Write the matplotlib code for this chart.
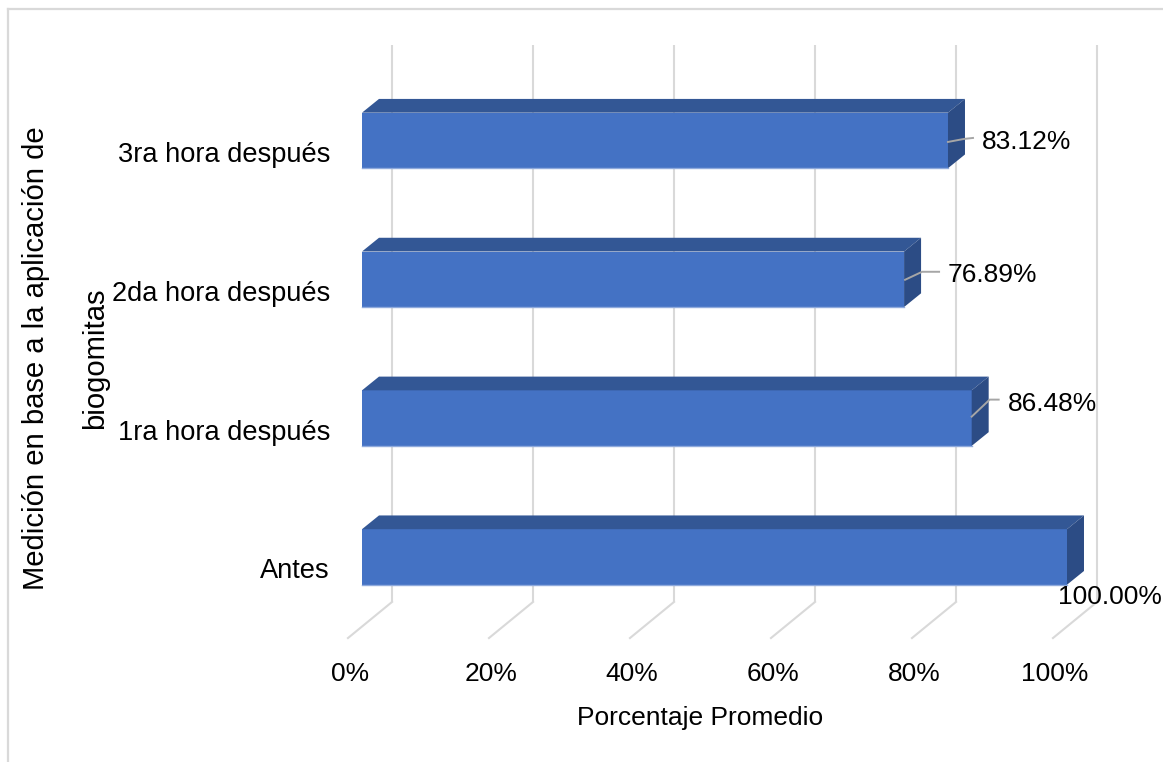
import matplotlib
matplotlib.use("Agg")
import matplotlib.pyplot as plt
from matplotlib.patches import Polygon
from matplotlib.lines import Line2D

# ---- data ----
categories = ["Antes", "1ra hora después", "2da hora después", "3ra hora después"]
values = [100.00, 86.48, 76.89, 83.12]
value_labels = ["100.00%", "86.48%", "76.89%", "83.12%"]
tick_values = [0, 20, 40, 60, 80, 100]
tick_labels = ["0%", "20%", "40%", "60%", "80%", "100%"]
x_title = "Porcentaje Promedio"
y_title_lines = ["Medición en base a la aplicación de", "biogomitas"]

# ---- style ----
plt.rcParams['font.family'] = ['Liberation Sans', 'DejaVu Sans']
FS = 19
FS_CAT = 19.6
FS_YT = 21.1
FRONT = '#4472C4'
TOP = '#335795'
SIDE = '#2C4C85'
GRID = '#D9D9D9'
LEADER = '#A6A6A6'
BAR_H = 0.40
DX, DY = 2.41, 0.099          # bar depth offset (data units)
BACK_DX, BACK_Y0, BACK_Y1 = 4.26, -0.324, 3.688
FRONT_DX, FRONT_Y = -1.99, -0.584

W, H = 1163, 762
fig = plt.figure(figsize=(W / 100, H / 100), dpi=100)
ax = fig.add_axes([362 / W, 66.2 / H, 705 / W, 694.2 / H])
ax.set_xlim(0, 100)
ax.set_ylim(-1, 4)
ax.axis('off')

ypos = list(range(len(categories)))

# back wall gridlines and floor diagonals
for v in tick_values:
    ax.plot([v + BACK_DX, v + BACK_DX], [BACK_Y0, BACK_Y1], color=GRID, lw=1.5,
            zorder=1, clip_on=False, solid_capstyle='butt')
    ax.plot([v + BACK_DX, v + FRONT_DX], [BACK_Y0, FRONT_Y], color=GRID, lw=1.5,
            zorder=1, clip_on=False)

# bars
bars = ax.barh(ypos, values, height=BAR_H, color=FRONT, zorder=3, edgecolor='none')
for b in bars:
    b.set_clip_on(False)
for y, v in zip(ypos, values):
    top = y + BAR_H / 2
    bot = y - BAR_H / 2
    ax.add_patch(Polygon([(0, top), (v, top), (v + DX, top + DY), (DX, top + DY)],
                         closed=True, facecolor=TOP, edgecolor='none', zorder=3,
                         clip_on=False))
    ax.add_patch(Polygon([(v, bot), (v, top), (v + DX, top + DY), (v + DX, bot + DY)],
                         closed=True, facecolor=SIDE, edgecolor='none', zorder=3,
                         clip_on=False))
    ax.plot([0, v], [bot, bot], color='#8FAADC', lw=1, zorder=3.5, clip_on=False)

# category labels
for y, c in zip(ypos, categories):
    ax.text(-4.54, y - 0.155, c, ha='right', va='baseline', fontsize=FS_CAT, color='#000000')

# x tick labels
for v, t in zip(tick_values, tick_labels):
    ax.text(v - 1.7, -0.893, t, ha='center', va='baseline', fontsize=FS, color='#000000')

# value labels with leader lines (pixel offsets relative to the bar end)
label_offsets = [(-9, -38), (36, 16.5), (44, 6.5), (34, 0.5)]
leader_paths = [None,
                [(0, 1.5), (18, 18.5), (27, 18.5)],
                [(1, -0.5), (18, 7.5), (35, 7.5)],
                [(0, -1.5), (16, 1.5), (25, 2.5)]]
fig.canvas.draw()
inv = fig.transFigure.inverted()
for y, v, lab, off, path in zip(ypos, values, value_labels, label_offsets, leader_paths):
    px, py = ax.transData.transform((v, y))
    lx, ly = px + off[0], py + off[1]
    fx, fy = inv.transform((lx, ly - 9))
    fig.text(fx, fy, lab, ha='left', va='baseline', fontsize=FS, color='#000000', zorder=5)
    if path:
        pts = [inv.transform((px + a, py + b)) for a, b in path]
        fig.add_artist(Line2D([p[0] for p in pts], [p[1] for p in pts], color=LEADER, lw=1.4))

# axis titles
fig.text(700 / W, (H - 725) / H, x_title, ha='center', va='baseline', fontsize=FS)
fig.text(36 / W, (H - 358) / H, y_title_lines[0], ha='center', va='center',
         rotation=90, fontsize=FS_YT)
fig.text(95 / W, (H - 358) / H, y_title_lines[1], ha='center', va='center',
         rotation=90, fontsize=FS_YT)

# outer frame (top & left edges)
fig.add_artist(Line2D([8 / W, 1], [1 - 9 / H, 1 - 9 / H], color=GRID, lw=1.6))
fig.add_artist(Line2D([8 / W, 8 / W], [0, 1 - 9 / H], color=GRID, lw=1.6))

fig.savefig('out.png', dpi=100, facecolor='white')
